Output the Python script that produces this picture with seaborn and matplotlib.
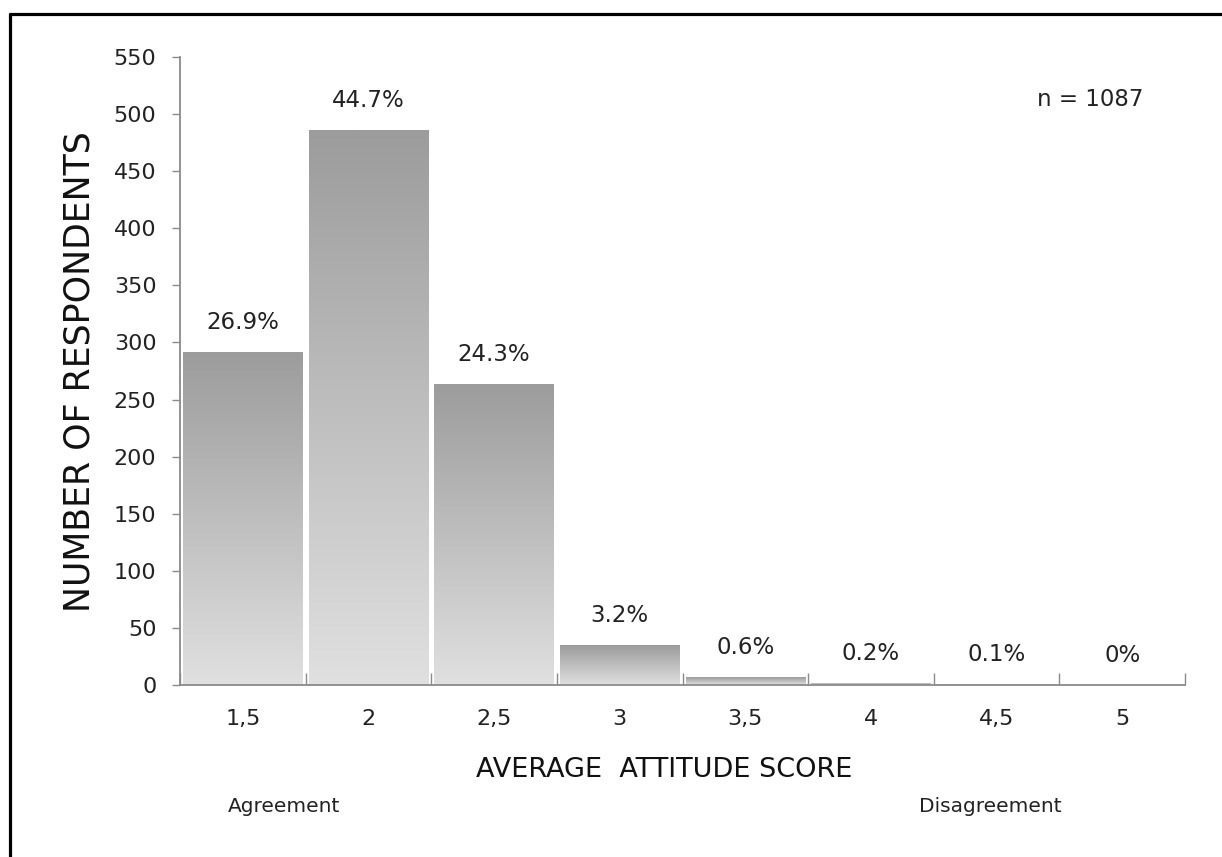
import numpy as np
import matplotlib
matplotlib.use("Agg")
import matplotlib.pyplot as plt
from matplotlib.colors import LinearSegmentedColormap
from matplotlib.lines import Line2D
import seaborn as sns

# Data
scores = ["1,5", "2", "2,5", "3", "3,5", "4", "4,5", "5"]
respondents = [292, 486, 264, 35, 7, 2, 1, 0]
percent_labels = ["26.9%", "44.7%", "24.3%", "3.2%", "0.6%", "0.2%", "0.1%", "0%"]
y_ticks = list(range(0, 551, 50))
n_total = 1087

sns.set_style("white")
plt.rcParams["font.family"] = ["DejaVu Sans"]

W, H = 1222, 857
fig = plt.figure(figsize=(W / 100, H / 100), dpi=100)
ax = fig.add_axes([180 / W, 1 - 685 / H, (1185 - 180) / W, (685 - 57) / H])

sns.barplot(x=scores, y=respondents, ax=ax, color="#bdbdbd", width=0.95,
            linewidth=0, saturation=1)

# vertical grey gradient inside each bar: dark at the top, light at the base
cmap = LinearSegmentedColormap.from_list("bar_grad", ["#e0e0e0", "#9c9c9c"])
grad = np.linspace(0, 1, 256).reshape(-1, 1)
for p in list(ax.patches):
    h = p.get_height()
    if h <= 0:
        continue
    x0, y0, w = p.get_x(), p.get_y(), p.get_width()
    im = ax.imshow(grad, extent=[x0, x0 + w, y0, y0 + h], origin="lower",
                   cmap=cmap, aspect="auto", zorder=p.get_zorder() + 0.1,
                   interpolation="bilinear")
    im.set_clip_path(p)

ax.set_xlim(-0.5, len(scores) - 0.5)
ax.set_ylim(0, 550)
ax.set_aspect("auto")

# value labels above bars
for i, (v, lab) in enumerate(zip(respondents, percent_labels)):
    ax.annotate(lab, xy=(i, v), xytext=(0, 21), textcoords="offset points",
                ha="center", va="center", fontsize=16.5, color="#222222")

# axes styling
axis_grey = "#8a8a8a"
for side in ["top", "right"]:
    ax.spines[side].set_visible(False)
for side in ["left", "bottom"]:
    ax.spines[side].set_color(axis_grey)
    ax.spines[side].set_linewidth(1.3)

ax.set_yticks(y_ticks)
ax.set_yticklabels([str(t) for t in y_ticks])
ax.tick_params(axis="y", direction="out", length=6, width=1, color=axis_grey,
               pad=11, labelsize=16, labelcolor="#222222", left=True)
ax.set_xticks(range(len(scores)))
ax.set_xticklabels(scores)
ax.tick_params(axis="x", length=0, pad=17, labelsize=16, labelcolor="#222222")
ax.set_xticks(np.arange(-0.5, len(scores), 1), minor=True)
ax.tick_params(axis="x", which="minor", direction="in", length=9, width=1,
               color=axis_grey, bottom=True)
ax.set_xlabel("")
ax.set_ylabel("")

# axis titles and annotations
fig.text(80 / W, 1 - 372 / H, "NUMBER OF RESPONDENTS", rotation=90,
         ha="center", va="center", fontsize=25, color="#111111")
fig.text(664 / W, 1 - 770 / H, "AVERAGE  ATTITUDE SCORE", ha="center",
         va="center", fontsize=19.5, color="#111111")
fig.text(228 / W, 1 - 806 / H, "Agreement", ha="left", va="center",
         fontsize=14.5, color="#222222")
fig.text(1062 / W, 1 - 806 / H, "Disagreement", ha="right", va="center",
         fontsize=14.5, color="#222222")
fig.text(1090 / W, 1 - 100 / H, f"n = {n_total}", ha="center", va="center",
         fontsize=16.5, color="#222222")

# frame around the figure (top and left edges)
fig.add_artist(Line2D([10 / W, 1], [1 - 14 / H, 1 - 14 / H],
                      transform=fig.transFigure, color="black", lw=2.3))
fig.add_artist(Line2D([10 / W, 10 / W], [0, 1 - 14 / H],
                      transform=fig.transFigure, color="black", lw=2.3))

fig.savefig("out.png", dpi=100)
